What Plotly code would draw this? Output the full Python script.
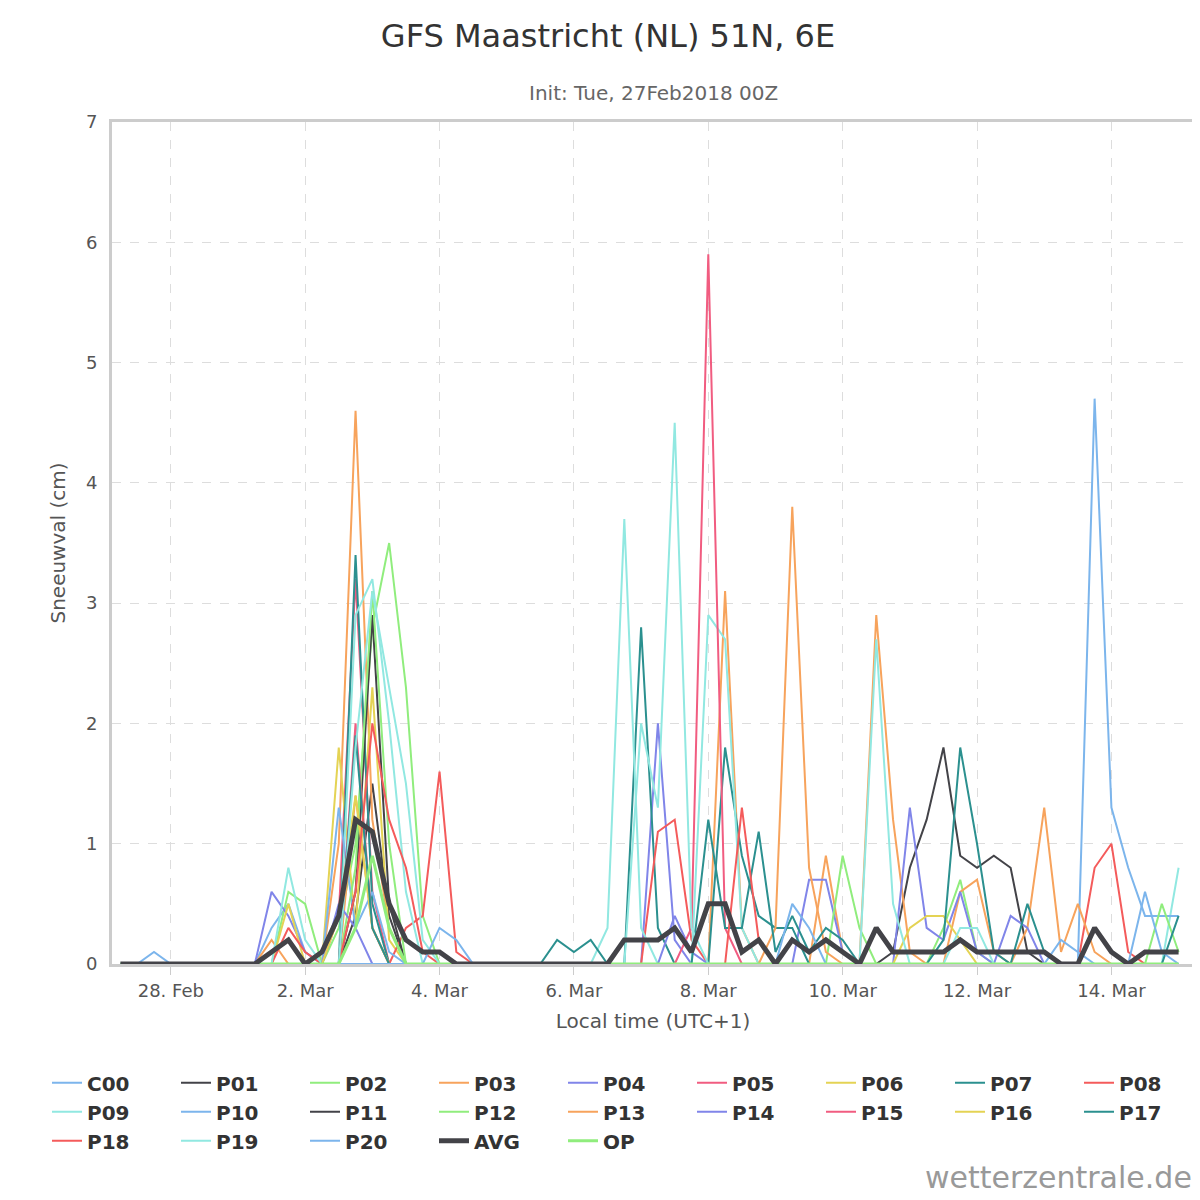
import plotly.graph_objects as go
import pandas as pd

N = 64
times = pd.date_range("2018-02-27 06:00", periods=N, freq="6h")

# sparse readings: index -> snowfall (cm); all other steps 0
C00 = {2: 0.1, 9: 0.3, 10: 0.5, 11: 0.1}
P01 = {14: 0.4, 15: 1.5, 16: 0.4}
P02 = {10: 0.6, 11: 0.5, 13: 0.3, 14: 1.0, 15: 2.8, 16: 3.5, 17: 2.3, 18: 0.4}
P03 = {9: 0.2, 13: 1.0, 14: 4.6, 15: 1.2, 16: 0.3, 36: 3.1, 37: 0.3, 42: 0.9, 43: 0.1}
P04 = {9: 0.6, 10: 0.4, 11: 0.1, 32: 2.0, 33: 0.2, 41: 0.7, 42: 0.7, 43: 0.1}
P05 = {13: 0.4, 14: 3.2, 15: 0.6}
P06 = {10: 0.5, 13: 1.8, 14: 0.3, 15: 2.3, 16: 0.2}
P07 = {14: 3.4, 15: 0.5, 31: 2.8, 32: 0.3, 36: 1.8, 37: 0.9, 38: 0.4, 39: 0.3, 40: 0.3}
P08 = {10: 0.3, 11: 0.1, 17: 0.3, 18: 0.4, 19: 1.6, 20: 0.1, 32: 1.1, 33: 1.2, 34: 0.2, 58: 0.8, 59: 1.0, 60: 0.1}
P09 = {10: 0.8, 11: 0.2, 14: 2.9, 15: 3.2, 16: 2.0, 17: 0.6, 29: 0.3, 30: 3.7, 31: 0.3, 35: 2.9, 36: 2.7, 37: 0.3, 63: 0.8}
P10 = {13: 1.3, 14: 0.3, 15: 0.6, 16: 0.1, 58: 4.7, 59: 1.3, 60: 0.8, 61: 0.4, 62: 0.4, 63: 0.4}
P11 = {14: 0.6, 15: 2.9, 16: 0.5, 46: 0.1, 47: 0.8, 48: 1.2, 49: 1.8, 50: 0.9, 51: 0.8, 52: 0.9, 53: 0.8, 54: 0.1}
P12 = {14: 0.8, 15: 3.1, 16: 1.0, 43: 0.9, 44: 0.3, 49: 0.3, 50: 0.7, 51: 0.1, 62: 0.5, 63: 0.1}
P13 = {14: 1.4, 15: 0.3, 39: 0.3, 40: 3.8, 41: 0.8, 42: 0.1, 45: 2.9, 46: 1.2, 47: 0.1, 50: 0.6, 51: 0.7, 52: 0.1, 54: 0.3, 55: 1.3, 56: 0.1, 57: 0.5, 58: 0.1}
P14 = {13: 0.5, 14: 0.3, 33: 0.4, 34: 0.1, 47: 1.3, 48: 0.3, 49: 0.2, 50: 0.6, 51: 0.1, 53: 0.4, 54: 0.3}
P15 = {14: 2.0, 15: 0.3, 34: 0.3, 35: 5.9, 36: 0.3}
P16 = {13: 0.4, 14: 1.4, 15: 0.3, 47: 0.3, 48: 0.4, 49: 0.4, 50: 0.2}
P17 = {14: 1.9, 15: 0.3, 26: 0.2, 27: 0.1, 28: 0.2, 35: 1.2, 36: 0.3, 37: 0.3, 38: 1.1, 39: 0.1, 40: 0.4, 41: 0.1, 42: 0.3, 43: 0.2, 49: 0.2, 50: 1.8, 51: 1.0, 52: 0.1, 54: 0.5, 55: 0.1, 63: 0.4}
P18 = {14: 0.6, 15: 2.0, 16: 1.2, 17: 0.8, 18: 0.1, 37: 1.3, 38: 0.2}
P19 = {14: 1.8, 15: 3.1, 16: 2.3, 17: 1.5, 18: 0.2, 31: 2.0, 32: 1.3, 33: 4.5, 34: 0.3, 45: 2.7, 46: 0.5, 50: 0.3, 51: 0.3}
P20 = {19: 0.3, 20: 0.2, 21: 0.0, 40: 0.5, 41: 0.3, 56: 0.2, 57: 0.1, 61: 0.6, 62: 0.1}
AVG = {9: 0.1, 10: 0.2, 11: 0.0, 12: 0.1, 13: 0.4, 14: 1.2, 15: 1.1, 16: 0.5, 17: 0.2, 18: 0.1, 19: 0.1,
       30: 0.2, 31: 0.2, 32: 0.2, 33: 0.3, 34: 0.1, 35: 0.5, 36: 0.5, 37: 0.1, 38: 0.2, 39: 0.0,
       40: 0.2, 41: 0.1, 42: 0.2, 43: 0.1, 44: 0.0, 45: 0.3, 46: 0.1, 47: 0.1, 48: 0.1, 49: 0.1,
       50: 0.2, 51: 0.1, 52: 0.1, 53: 0.1, 54: 0.1, 55: 0.1, 56: 0.0, 57: 0.0, 58: 0.3, 59: 0.1,
       60: 0.0, 61: 0.1, 62: 0.1, 63: 0.1}
OP = {14: 0.3, 15: 0.9, 16: 0.3}

names = ["C00", "P01", "P02", "P03", "P04", "P05", "P06", "P07", "P08", "P09", "P10", "P11",
         "P12", "P13", "P14", "P15", "P16", "P17", "P18", "P19", "P20", "AVG", "OP"]
data = [C00, P01, P02, P03, P04, P05, P06, P07, P08, P09, P10, P11, P12, P13, P14, P15,
        P16, P17, P18, P19, P20, AVG, OP]
palette = ["#7cb5ec", "#434348", "#90ed7d", "#f7a35c", "#8085e9", "#f15c80", "#e4d354",
           "#2b908f", "#f45b5b", "#91e8e1"]

tick_dates = ["2018-02-28", "2018-03-02", "2018-03-04", "2018-03-06", "2018-03-08",
              "2018-03-10", "2018-03-12", "2018-03-14"]
tick_labels = ["28. Feb", "2. Mar", "4. Mar", "6. Mar", "8. Mar", "10. Mar", "12. Mar", "14. Mar"]

traces = []
for k, (name, d) in enumerate(zip(names, data)):
    y = [d.get(i, 0.0) for i in range(N)]
    if name == "AVG":
        color, width = "#434348", 5
    elif name == "OP":
        color, width = "#90ed7d", 3
    else:
        color, width = palette[k % 10], 2
    traces.append(go.Scatter(x=times, y=y, mode="lines", name=name, legendrank=k + 1,
                             line=dict(color=color, width=width)))
avg = [t for t in traces if t.name == "AVG"]
fig = go.Figure([t for t in traces if t.name != "AVG"] + avg)

grid = dict(showgrid=True, gridcolor="#dddddd", griddash="dash", gridwidth=1)
fig.update_layout(
    width=1200, height=1200,
    paper_bgcolor="white", plot_bgcolor="white",
    font=dict(family="DejaVu Sans", color="#555555", size=18),
    margin=dict(l=104, r=14, t=114, b=244),
    title=dict(text="GFS Maastricht (NL) 51N, 6E", x=0.5, xanchor="center", y=1 - 28 / 1200,
               yanchor="middle", font=dict(size=32, color="#333333")),
    showlegend=True,
    legend=dict(orientation="h", x=-0.05, xanchor="left", y=-0.118, yanchor="top",
                entrywidth=84, entrywidthmode="pixels", traceorder="normal",
                font=dict(size=20, color="#333333", weight="bold"), itemwidth=30,
                tracegroupgap=0),
    xaxis=dict(range=["2018-02-27 03:00", "2018-03-15 05:30"], tickvals=tick_dates,
               ticktext=tick_labels, showline=True, linecolor="#cccccc", linewidth=3, mirror=True,
               ticks="outside", ticklen=8, tickcolor="#cccccc",
               title=dict(text="Local time (UTC+1)", font=dict(size=20)), zeroline=False, **grid),
    yaxis=dict(range=[0, 7], dtick=1, showline=True, linecolor="#cccccc", linewidth=3, mirror=True,
               title=dict(text="Sneeuwval (cm)", font=dict(size=20)), zeroline=False,
               ticklabelstandoff=8, **grid),
)
fig.add_annotation(text="Init: Tue, 27Feb2018 00Z", x=0.5, xref="paper", y=(963 - 92) / 842.0,
                   yref="paper", yanchor="middle", showarrow=False,
                   font=dict(size=20, color="#666666"))
fig.add_annotation(text="wetterzentrale.de", x=1.0, xref="paper", xanchor="right",
                   y=(963 - 1176) / 842.0, yref="paper", yanchor="middle", showarrow=False,
                   font=dict(size=30, color="#999999"))
fig.write_html("out.html")
